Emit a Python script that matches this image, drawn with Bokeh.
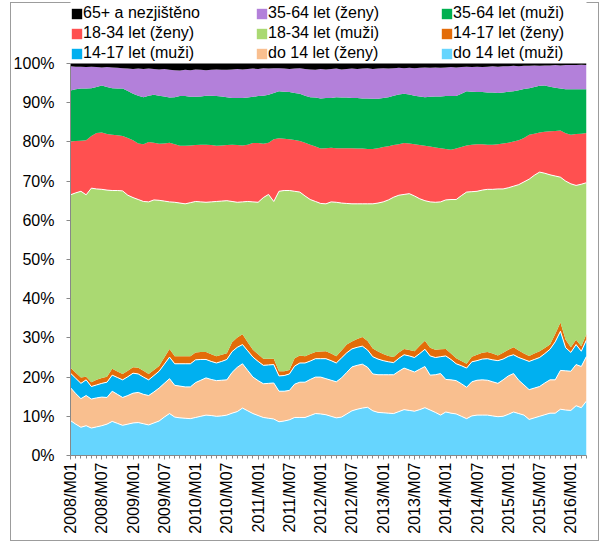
from bokeh.plotting import figure
from bokeh.models import FixedTicker, Legend, LegendItem, ColumnDataSource, PrintfTickFormatter, Range1d
from bokeh.transform import stack
from bokeh.embed import file_html
from bokeh.resources import INLINE
import math

# ---- data (shares in %, monthly 2008/M01 .. 2016/M04) ----
months = [f"{2008 + i // 12}/M{i % 12 + 1:02d}" for i in range(100)]

do14_muzi = [8.9, 8.0, 7.2, 7.6, 7.0, 7.3, 7.6, 8.0, 8.7, 8.2,
             7.7, 8.0, 8.3, 8.4, 8.1, 7.8, 8.3, 8.8, 9.8, 10.7,
             9.8, 9.6, 9.5, 9.4, 9.7, 10.0, 10.3, 10.2, 10.0, 10.1,
             10.3, 10.8, 11.2, 12.1, 11.4, 10.7, 10.2, 9.7, 9.5, 9.3,
             8.6, 8.8, 9.1, 9.7, 9.7, 9.7, 10.2, 10.7, 10.6, 10.4,
             10.0, 9.6, 9.8, 10.6, 11.4, 11.8, 12.1, 12.3, 11.4, 11.0,
             10.9, 10.8, 10.7, 11.2, 11.7, 11.5, 11.3, 11.7, 12.2, 11.6,
             11.0, 10.3, 11.1, 10.8, 10.6, 10.0, 9.4, 10.1, 10.3, 10.3,
             10.3, 10.1, 9.9, 10.0, 10.5, 11.1, 10.7, 10.3, 9.2, 9.6,
             10.0, 10.4, 10.8, 10.8, 11.8, 11.6, 11.5, 12.7, 12.2, 13.9]
do14_zeny = [8.4, 7.8, 7.3, 7.7, 7.4, 7.4, 7.3, 6.8, 7.7, 7.4,
             7.1, 7.3, 7.6, 7.7, 7.5, 7.5, 7.9, 8.4, 8.6, 8.9,
             8.1, 8.1, 8.0, 8.1, 8.9, 9.2, 9.5, 9.2, 9.1, 9.1,
             9.0, 10.4, 11.3, 11.3, 10.3, 9.3, 8.9, 8.6, 8.9, 9.2,
             7.8, 7.6, 7.5, 8.5, 9.0, 9.0, 9.2, 9.3, 9.4, 9.2,
             9.2, 9.2, 10.0, 10.6, 11.2, 11.2, 11.2, 10.2, 9.4, 9.6,
             9.7, 9.8, 9.9, 10.3, 10.6, 10.3, 10.0, 10.3, 10.5, 8.9,
             9.6, 10.6, 8.3, 8.5, 8.5, 8.3, 8.0, 8.7, 8.9, 9.0,
             8.9, 8.7, 8.5, 9.3, 9.8, 9.8, 8.5, 7.7, 7.6, 7.6,
             7.6, 8.1, 8.5, 8.5, 9.9, 10.0, 10.0, 10.5, 10.5, 11.4]
d1417_muzi = [3.7, 3.9, 3.9, 4.0, 3.2, 3.3, 3.5, 3.9, 4.1, 4.3,
              4.5, 4.8, 5.1, 4.7, 4.4, 4.0, 4.2, 4.3, 4.9, 5.5,
              5.5, 5.7, 5.9, 5.9, 5.8, 5.3, 4.7, 4.6, 4.5, 4.8,
              5.2, 5.3, 5.1, 4.9, 5.0, 5.1, 4.9, 4.7, 4.7, 4.7,
              3.9, 4.0, 4.2, 4.6, 4.9, 4.9, 4.7, 4.7, 4.7, 5.1,
              5.0, 4.8, 5.1, 5.0, 4.6, 4.6, 4.6, 4.4, 4.4, 4.0,
              3.6, 3.3, 3.1, 3.3, 3.4, 3.6, 3.7, 4.0, 4.4, 4.9,
              4.4, 4.3, 6.0, 5.2, 4.3, 4.6, 4.9, 5.1, 5.0, 5.3,
              5.5, 5.6, 5.8, 5.3, 5.0, 4.8, 5.8, 6.5, 7.2, 7.3,
              7.4, 7.5, 7.8, 9.7, 10.0, 5.9, 4.8, 5.1, 3.9, 4.2]
d1417_zeny = [1.4, 1.4, 1.5, 0.8, 1.1, 1.3, 1.4, 1.4, 1.6, 1.5,
              1.5, 1.5, 1.5, 1.6, 1.6, 1.5, 1.4, 1.3, 1.7, 2.1,
              1.9, 1.9, 1.9, 1.9, 1.9, 1.9, 1.9, 1.8, 1.7, 1.7,
              1.6, 2.4, 2.5, 2.6, 2.2, 1.9, 1.8, 1.7, 1.6, 1.5,
              1.2, 1.1, 1.0, 2.0, 1.9, 1.7, 1.8, 1.7, 1.8, 1.9,
              1.8, 1.7, 1.9, 2.1, 1.9, 2.1, 2.3, 2.3, 2.1, 1.9,
              1.7, 1.5, 1.4, 1.5, 1.5, 1.5, 1.6, 2.0, 2.2, 2.1,
              2.0, 1.9, 1.8, 1.5, 1.4, 1.2, 1.1, 1.3, 1.5, 1.6,
              1.7, 1.6, 1.3, 1.6, 1.7, 1.9, 1.8, 1.5, 1.4, 1.5,
              1.6, 1.4, 1.2, 2.0, 2.2, 2.0, 1.3, 1.2, 1.3, 1.5]
d1834_muzi = [44.1, 45.9, 47.5, 46.4, 49.5, 48.7, 48.1, 47.6, 45.5, 46.2,
              46.7, 44.8, 43.3, 42.9, 43.2, 43.9, 43.4, 42.3, 39.9, 37.5,
              39.3, 39.1, 38.9, 39.2, 38.5, 38.3, 38.2, 38.9, 39.5, 39.2,
              38.9, 35.9, 34.5, 33.8, 35.9, 37.7, 38.8, 41.1, 41.9, 40.1,
              45.9, 46.1, 45.8, 42.6, 41.7, 40.9, 39.4, 38.4, 37.8, 37.6,
              38.7, 39.3, 37.6, 36.0, 35.1, 34.5, 34.0, 35.0, 36.9, 37.9,
              38.8, 39.8, 40.8, 40.1, 39.4, 39.9, 39.6, 37.5, 35.7, 37.2,
              37.6, 37.6, 38.0, 39.3, 40.5, 42.2, 43.8, 42.1, 41.7, 41.5,
              41.5, 41.9, 42.5, 41.8, 41.3, 41.1, 42.3, 43.8, 45.1, 45.5,
              45.7, 44.6, 43.3, 40.3, 37.1, 40.5, 41.7, 39.4, 41.3, 38.6]
d1834_zeny = [13.6, 13.2, 12.9, 13.9, 13.3, 14.3, 14.5, 14.3, 14.2, 14.1,
              14.0, 14.6, 14.6, 14.3, 14.6, 15.3, 14.6, 14.4, 14.7, 15.1,
              14.8, 14.6, 14.8, 14.6, 14.4, 14.6, 14.7, 14.5, 14.2, 14.2,
              14.2, 14.5, 14.6, 14.4, 14.5, 15.0, 15.1, 13.7, 13.2, 15.9,
              13.5, 13.2, 13.1, 13.1, 13.0, 13.6, 14.0, 14.0, 14.0, 14.2,
              13.8, 13.8, 14.0, 14.1, 14.2, 14.1, 14.1, 14.0, 14.0, 14.0,
              14.0, 13.7, 13.3, 13.0, 13.1, 12.8, 13.2, 13.7, 14.0, 14.1,
              14.0, 13.7, 13.0, 12.7, 13.0, 12.4, 11.9, 12.0, 12.0, 11.7,
              11.4, 11.4, 11.4, 11.6, 11.5, 11.4, 11.3, 11.2, 11.3, 10.6,
              10.1, 10.6, 11.1, 11.5, 11.9, 12.2, 12.5, 13.1, 12.9, 12.7]
d3564_muzi = [13.0, 13.2, 13.3, 13.2, 12.2, 11.7, 12.0, 12.0, 11.9, 11.9,
              12.1, 12.0, 11.9, 12.2, 12.0, 11.8, 12.2, 12.3, 12.0, 11.5,
              12.0, 12.7, 12.7, 12.4, 12.3, 12.3, 12.5, 12.6, 12.7, 12.5,
              12.2, 11.9, 12.0, 12.1, 12.0, 11.8, 12.0, 12.3, 12.2, 11.8,
              12.0, 12.0, 12.0, 12.0, 12.1, 12.0, 12.1, 12.5, 12.8, 12.8,
              12.7, 13.0, 12.9, 12.9, 12.8, 12.9, 12.8, 12.9, 12.8, 12.6,
              12.5, 12.5, 12.6, 12.7, 12.6, 12.5, 12.4, 12.4, 12.4, 12.7,
              13.0, 13.2, 13.5, 13.7, 13.4, 13.6, 13.8, 13.5, 13.3, 13.3,
              13.3, 13.3, 13.1, 13.0, 13.0, 12.8, 12.8, 12.5, 11.9, 11.9,
              11.9, 11.8, 11.4, 11.0, 10.7, 11.2, 11.6, 11.4, 11.3, 11.1]
d3564_zeny = [6.2, 5.8, 5.6, 5.5, 5.5, 5.1, 4.6, 5.1, 5.3, 5.3,
              5.2, 5.7, 6.3, 6.9, 7.2, 6.9, 6.6, 6.7, 7.0, 7.1,
              6.9, 6.5, 6.7, 6.8, 7.0, 6.8, 6.5, 6.6, 6.8, 6.8,
              7.0, 7.3, 7.4, 7.3, 7.3, 7.2, 6.9, 7.0, 6.7, 6.3,
              5.9, 5.9, 5.9, 6.2, 6.5, 6.8, 7.1, 7.1, 7.5, 7.3,
              7.4, 7.3, 7.2, 7.3, 7.5, 7.4, 7.6, 7.7, 7.6, 7.7,
              7.6, 7.3, 7.0, 6.8, 6.5, 6.8, 7.0, 7.3, 7.6, 7.4,
              7.4, 7.3, 7.3, 7.4, 7.3, 6.8, 6.3, 6.3, 6.5, 6.4,
              6.6, 6.7, 6.7, 6.7, 6.5, 6.5, 6.1, 5.9, 5.7, 5.5,
              5.1, 5.1, 5.4, 5.8, 5.9, 6.2, 6.2, 6.2, 6.3, 6.2]
d65_nezj = [0.7, 0.8, 0.8, 0.9, 0.8, 0.9, 1.0, 0.9, 1.0, 1.1,
            1.2, 1.3, 1.4, 1.3, 1.4, 1.3, 1.4, 1.5, 1.4, 1.6,
            1.7, 1.8, 1.6, 1.7, 1.5, 1.6, 1.7, 1.6, 1.5, 1.6,
            1.6, 1.5, 1.4, 1.5, 1.4, 1.3, 1.4, 1.2, 1.3, 1.2,
            1.2, 1.3, 1.4, 1.3, 1.2, 1.4, 1.5, 1.6, 1.4, 1.5,
            1.4, 1.3, 1.5, 1.4, 1.3, 1.4, 1.3, 1.2, 1.4, 1.3,
            1.2, 1.3, 1.2, 1.1, 1.2, 1.1, 1.2, 1.1, 1.0, 1.1,
            1.0, 1.1, 1.0, 0.9, 1.0, 0.9, 0.8, 0.9, 0.8, 0.9,
            0.8, 0.7, 0.8, 0.7, 0.7, 0.6, 0.7, 0.6, 0.6, 0.5,
            0.6, 0.5, 0.5, 0.4, 0.5, 0.4, 0.4, 0.4, 0.3, 0.4]

y_ticks = [0, 10, 20, 30, 40, 50, 60, 70, 80, 90, 100]

# bottom-up stacking order
keys = ["do14_muzi", "do14_zeny", "d1417_muzi", "d1417_zeny", "d1834_muzi",
        "d1834_zeny", "d3564_muzi", "d3564_zeny", "d65_nezj"]
labels = {"do14_muzi": "do 14 let (muži)", "do14_zeny": "do 14 let (ženy)",
          "d1417_muzi": "14-17 let (muži)", "d1417_zeny": "14-17 let (ženy)",
          "d1834_muzi": "18-34 let (muži)", "d1834_zeny": "18-34 let (ženy)",
          "d3564_muzi": "35-64 let (muži)", "d3564_zeny": "35-64 let (ženy)",
          "d65_nezj": "65+ a nezjištěno"}
colors = {"do14_muzi": "#66D5FE", "do14_zeny": "#F9BF8F", "d1417_muzi": "#00B0F0",
          "d1417_zeny": "#E36C09", "d1834_muzi": "#AAD972", "d1834_zeny": "#FF5050",
          "d3564_muzi": "#00B050", "d3564_zeny": "#B380DA", "d65_nezj": "#000000"}

src = ColumnDataSource(dict(
    x=list(range(len(months))),
    do14_muzi=do14_muzi, do14_zeny=do14_zeny, d1417_muzi=d1417_muzi,
    d1417_zeny=d1417_zeny, d1834_muzi=d1834_muzi, d1834_zeny=d1834_zeny,
    d3564_muzi=d3564_muzi, d3564_zeny=d3564_zeny, d65_nezj=d65_nezj))

FONT = "Liberation Sans"

# geometry: frame 0..455 px tall; 100 % sits 392 px above the x axis,
# the space above it (inside the frame) holds the legend
FRAME_H = 455
PX_PER_PCT = 3.92
p = figure(width=599, height=541, output_backend="svg", toolbar_location=None, title=None,
           x_range=Range1d(0, len(months) - 1),
           y_range=Range1d(0, FRAME_H / PX_PER_PCT),
           min_border_left=70, min_border_right=13, min_border_top=0,
           min_border_bottom=86)
p.outline_line_color = None
p.xgrid.grid_line_color = None
p.ygrid.grid_line_color = None
p.background_fill_color = "white"
p.border_fill_alpha = 0
p.styles = {
    "background": ("linear-gradient(#9c9c9c,#9c9c9c) 10px 2px / 1px 539px no-repeat, "
                   "linear-gradient(#9c9c9c,#9c9c9c) 10px 2px / 589px 1px no-repeat, "
                   "linear-gradient(#9c9c9c,#9c9c9c) 598px 2px / 1px 539px no-repeat, "
                   "linear-gradient(#9c9c9c,#9c9c9c) 10px 540px / 589px 1px no-repeat, white"),
}

renderers = p.varea_stack(stackers=keys, x="x", color=[colors[k] for k in keys], source=src)
rmap = dict(zip(keys, renderers))

# thin white separators (as in the original)
for i in [1, 2, 3, 5]:
    p.line(x="x", y=stack(*keys[:i]), source=src, line_color="white", line_width=1)

# axes
p.yaxis.ticker = FixedTicker(ticks=y_ticks)
p.yaxis.bounds = (0, 100)
p.yaxis.formatter = PrintfTickFormatter(format="%d%%")
p.yaxis.minor_tick_line_color = None
p.yaxis.major_tick_out = 4
p.yaxis.major_tick_in = 0
p.yaxis.major_label_standoff = 12
for ax in (p.xaxis[0], p.yaxis[0]):
    ax.axis_line_color = "#888888"
    ax.major_tick_line_color = "#888888"
    ax.minor_tick_line_color = "#888888"
    ax.major_label_text_font = FONT
    ax.major_label_text_font_size = "16px"
    ax.major_label_text_color = "black"

xt = list(range(0, len(months), 6))
p.xaxis.ticker = FixedTicker(ticks=xt, minor_ticks=list(range(len(months))))
p.xaxis.major_label_overrides = {i: months[i] for i in xt}
p.xaxis.major_label_orientation = math.pi / 2
p.xaxis.major_tick_out = 4
p.xaxis.major_tick_in = 0
p.xaxis.minor_tick_out = 3
p.xaxis.minor_tick_in = 0
p.xaxis.major_label_standoff = 3

# legend: 3 x 3, row-major as in the original
order = ["d65_nezj", "d3564_zeny", "d3564_muzi",
         "d1834_zeny", "d1834_muzi", "d1417_zeny",
         "d1417_muzi", "do14_zeny", "do14_muzi"]
legend = Legend(items=[LegendItem(label=labels[k], renderers=[rmap[k]]) for k in order],
                orientation="horizontal", ncols=3,
                location=(0, 392), padding=0, margin=0, spacing=0,
                glyph_width=13, glyph_height=13, label_standoff=0, label_width=172,
                label_height=20,
                label_text_font=FONT, label_text_font_size="16px",
                label_text_color="black",
                border_line_color=None, background_fill_alpha=0)
p.add_layout(legend, "center")

open("out.html", "w").write(file_html(p, INLINE))
